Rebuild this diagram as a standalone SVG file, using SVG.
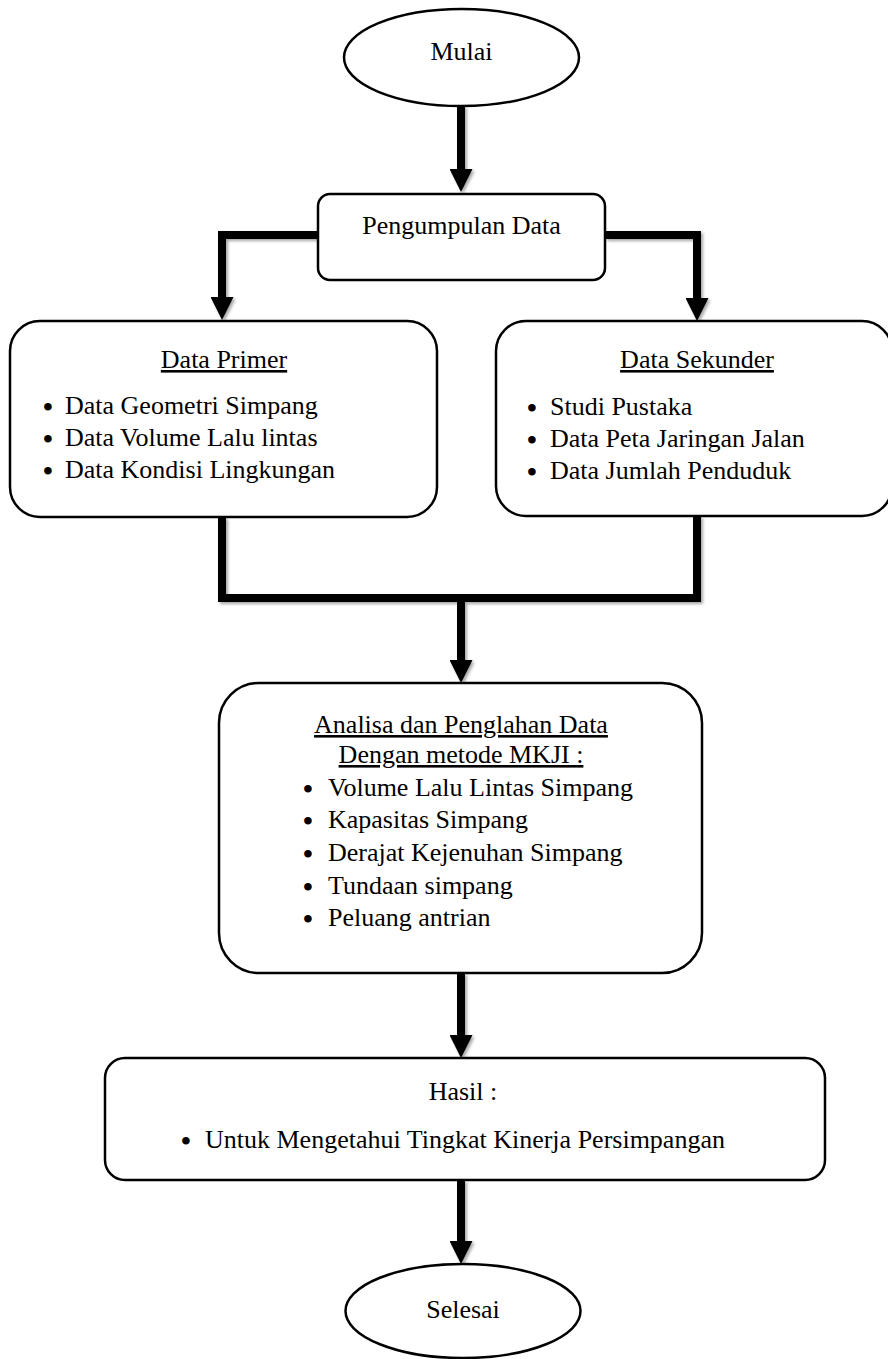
<svg xmlns="http://www.w3.org/2000/svg" width="888" height="1359" viewBox="0 0 888 1359">
<style>
  .box { fill: #ffffff; stroke: #000000; stroke-width: 2.5; }
  .t { font-family: "Liberation Serif", "Times New Roman", serif; font-size: 26px; fill: #000000; }
  .b { font-family: "Liberation Serif", "Times New Roman", serif; font-size: 28px; font-weight: bold; fill: #000000; text-anchor: middle; }
  .c { text-anchor: middle; }
  .u { text-decoration: underline; }
  .conn { fill: none; stroke: #000000; stroke-width: 8; stroke-linejoin: miter; stroke-linecap: butt; }
</style>
<defs>
  <filter id="sh" x="-20%" y="-20%" width="140%" height="140%">
    <feDropShadow dx="2" dy="2" stdDeviation="1.5" flood-color="#000000" flood-opacity="0.35"/>
  </filter>
  <marker id="ah" markerUnits="userSpaceOnUse" markerWidth="23" markerHeight="23" viewBox="0 0 23 23" refX="0" refY="11.5" orient="auto">
    <path d="M0,0 L23,11.5 L0,23 Z" fill="#000000"/>
  </marker>
</defs>
<rect width="888" height="1359" fill="#ffffff"/>

<g id="connectors" filter="url(#sh)">
  <path class="conn" d="M461,106 V169" marker-end="url(#ah)"/>
  <path class="conn" d="M318,235 H222 V297" marker-end="url(#ah)"/>
  <path class="conn" d="M605,235 H697 V298" marker-end="url(#ah)"/>
  <path class="conn" d="M222,517 V598 H697 V516"/>
  <path class="conn" d="M461,598 V660" marker-end="url(#ah)"/>
  <path class="conn" d="M461,973 V1035" marker-end="url(#ah)"/>
  <path class="conn" d="M461,1180 V1241" marker-end="url(#ah)"/>
</g>

<g id="mulai">
  <ellipse class="box" cx="461.5" cy="57.5" rx="117.5" ry="48.5"/>
  <text class="t c" x="461.5" y="60">Mulai</text>
</g>

<g id="pengumpulan">
  <rect class="box" x="318" y="194" width="287" height="86" rx="12" ry="12"/>
  <text class="t c" x="461.5" y="234">Pengumpulan Data</text>
</g>

<g id="data-primer">
  <rect class="box" x="10" y="321" width="427" height="196" rx="30" ry="30"/>
  <text class="t c u" x="224" y="368">Data Primer</text>
  <text class="b" x="48" y="416">•</text>
  <text class="t" x="65" y="414">Data Geometri Simpang</text>
  <text class="b" x="48" y="448">•</text>
  <text class="t" x="65" y="446">Data Volume Lalu lintas</text>
  <text class="b" x="48" y="480">•</text>
  <text class="t" x="65" y="478">Data Kondisi Lingkungan</text>
</g>

<g id="data-sekunder">
  <rect class="box" x="496" y="321" width="396" height="195" rx="30" ry="30"/>
  <text class="t c u" x="697" y="368">Data Sekunder</text>
  <text class="b" x="532" y="417">•</text>
  <text class="t" x="550" y="415">Studi Pustaka</text>
  <text class="b" x="532" y="449">•</text>
  <text class="t" x="550" y="447">Data Peta Jaringan Jalan</text>
  <text class="b" x="532" y="481">•</text>
  <text class="t" x="550" y="479">Data Jumlah Penduduk</text>
</g>

<g id="analisa">
  <rect class="box" x="219" y="683" width="483" height="290" rx="40" ry="40"/>
  <text class="t c u" x="461" y="733">Analisa dan Penglahan Data</text>
  <text class="t c u" x="461" y="763">Dengan metode MKJI :</text>
  <text class="b" x="308" y="798">•</text>
  <text class="t" x="328" y="796">Volume Lalu Lintas Simpang</text>
  <text class="b" x="308" y="830">•</text>
  <text class="t" x="328" y="828">Kapasitas Simpang</text>
  <text class="b" x="308" y="863">•</text>
  <text class="t" x="328" y="861">Derajat Kejenuhan Simpang</text>
  <text class="b" x="308" y="896">•</text>
  <text class="t" x="328" y="894">Tundaan simpang</text>
  <text class="b" x="308" y="928">•</text>
  <text class="t" x="328" y="926">Peluang antrian</text>
</g>

<g id="hasil">
  <rect class="box" x="105" y="1058" width="720" height="122" rx="20" ry="20"/>
  <text class="t c" x="463" y="1100">Hasil :</text>
  <text class="b" x="186" y="1150">•</text>
  <text class="t" x="205" y="1148">Untuk Mengetahui Tingkat Kinerja Persimpangan</text>
</g>

<g id="selesai">
  <ellipse class="box" cx="463" cy="1311" rx="117.5" ry="47"/>
  <text class="t c" x="463" y="1318">Selesai</text>
</g>
</svg>
